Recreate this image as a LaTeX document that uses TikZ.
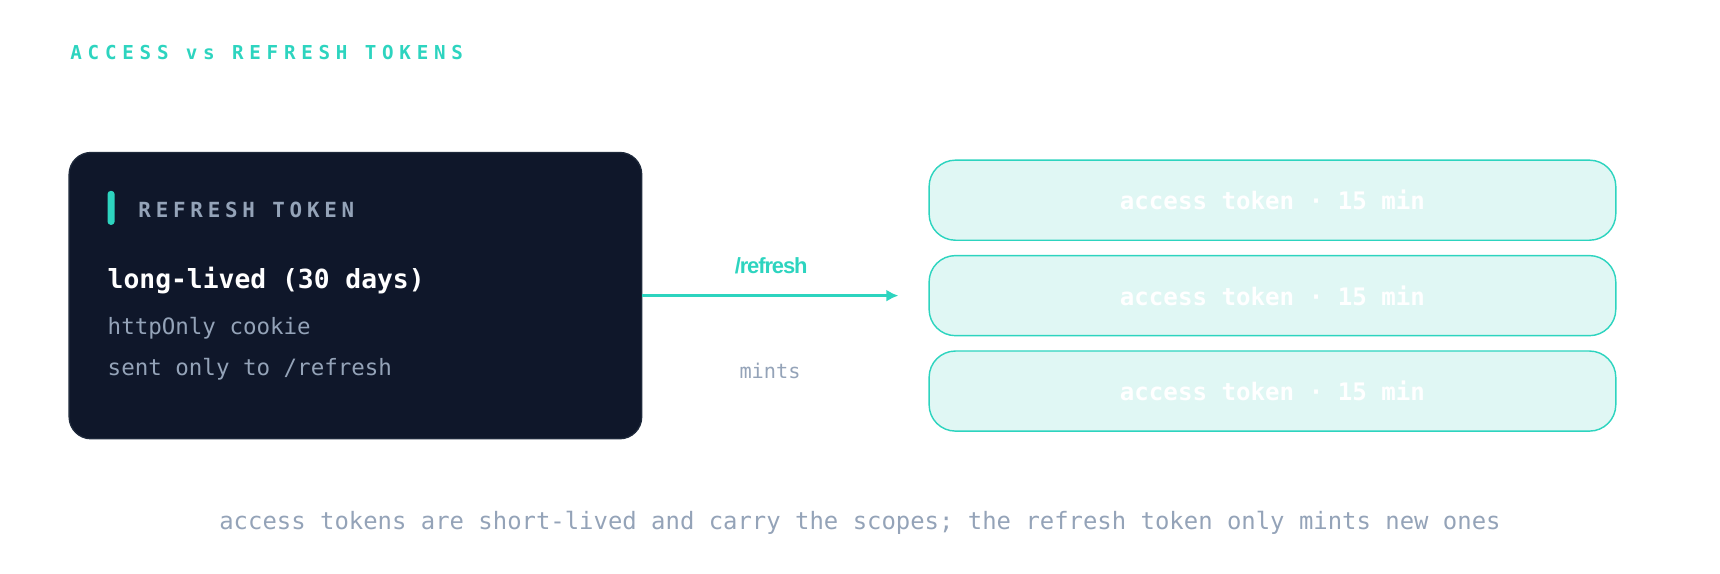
\documentclass[tikz,border=0pt]{standalone}
\usepackage{fontspec}
\usetikzlibrary{arrows.meta}
\setmainfont{Liberation Sans}
\setmonofont{DejaVu Sans Mono}
\definecolor{teal}{HTML}{2DD4BF}
\definecolor{navy}{HTML}{0F172A}
\definecolor{navyb}{HTML}{1E293B}
\definecolor{slate}{HTML}{94A3B8}
\definecolor{mint}{HTML}{E0F7F4}
\begin{document}
\begin{tikzpicture}[x=1pt,y=-1pt,
  acc/.style={draw=teal,line width=1.3pt,fill=mint,rounded corners=24pt,minimum width=626pt,minimum height=73pt,inner sep=0pt,
    text=white,font=\ttfamily\bfseries\fontsize{22}{26}\selectfont},
  mono/.style={anchor=west,inner sep=0pt,font=\ttfamily\fontsize{20.5}{24}\selectfont,text=slate}]
\useasboundingbox (0,0) rectangle (1568,522.4);
\node[anchor=west,inner sep=0pt,text=teal,font=\ttfamily\bfseries\fontsize{17.5}{20}\selectfont\addfontfeatures{LetterSpace=30}] (title) at (64,48) {ACCESS vs REFRESH TOKENS};
\node[draw=navyb,line width=1.2pt,fill=navy,rounded corners=20pt,minimum width=522pt,minimum height=261pt,inner sep=0pt] (refresh) at (324,269.5) {};
\fill[teal,rounded corners=3pt] (98,174) rectangle (104.5,205);
\node[anchor=west,inner sep=0pt,text=slate,font=\ttfamily\bfseries\fontsize{19}{22}\selectfont\addfontfeatures{LetterSpace=23}] (rt) at (126,191) {REFRESH TOKEN};
\node[anchor=west,inner sep=0pt,text=white,font=\ttfamily\bfseries\fontsize{24}{28}\selectfont] (ll) at (98,256) {long-lived (30 days)};
\node[mono] (hc) at (98,299) {httpOnly cookie};
\node[mono] (so) at (98,337) {sent only to /refresh};
\node[acc] (a1) at (1160,182.5) {access token · 15 min};
\node[acc] (a2) at (1160,269.5) {access token · 15 min};
\node[acc] (a3) at (1160,356.5) {access token · 15 min};
\coordinate (tip) at (819,269.5);
\draw[teal,line width=3pt,-{Latex[length=11pt,width=11pt]}] (refresh.east) -- (tip);
\node[inner sep=0pt,text=teal,font=\bfseries\fontsize{20}{24}\selectfont\addfontfeatures{LetterSpace=-5}] (lbl) at (703,242) {/refresh};
\node[inner sep=0pt,text=slate,font=\ttfamily\fontsize{18.5}{22}\selectfont] (mints) at (702,338) {mints};
\node[inner sep=0pt,text=slate,font=\ttfamily\fontsize{21.8}{26}\selectfont] (foot) at (784,477) {access tokens are short-lived and carry the scopes; the refresh token only mints new ones};
\end{tikzpicture}
\end{document}
